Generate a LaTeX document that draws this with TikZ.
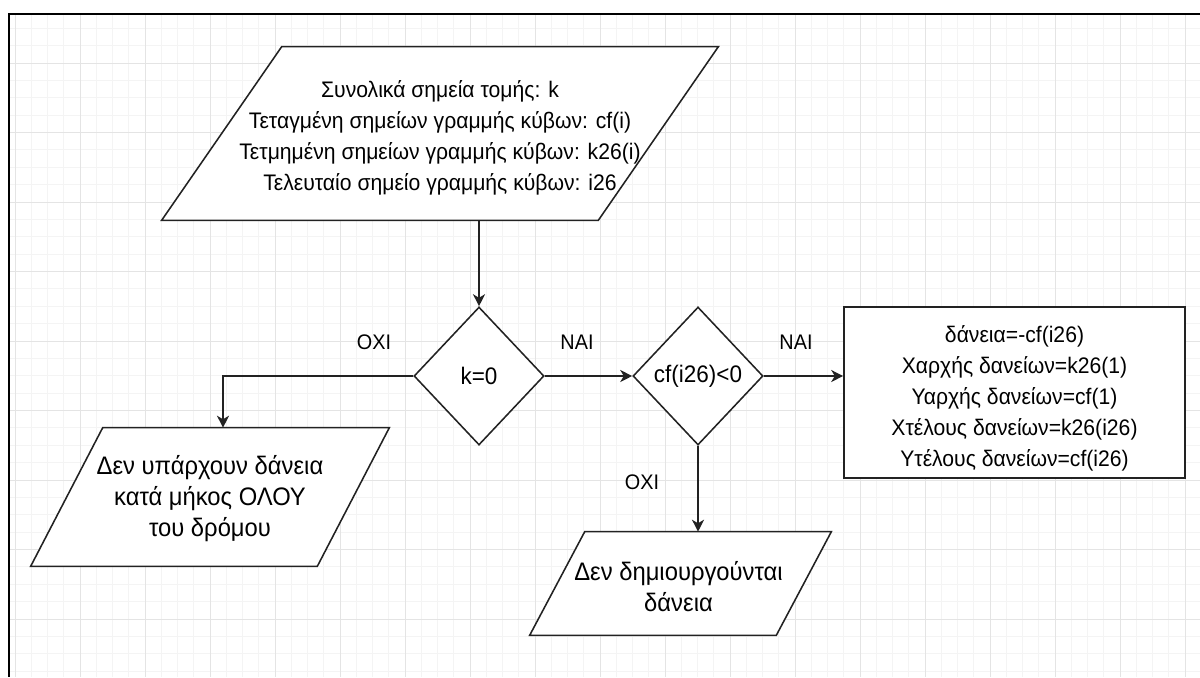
\documentclass[tikz,border=0pt]{standalone}
\usepackage{fontspec}
\setmainfont{Liberation Sans}[FakeStretch=0.94]
\usetikzlibrary{positioning, arrows.meta, shapes.geometric, calc}

\definecolor{gridmajor}{HTML}{E4E4E4}
\definecolor{gridminor}{HTML}{F4F4F4}
\definecolor{linecol}{HTML}{222222}

\tikzset{
  boxtext/.style={align=center, inner sep=0pt, font=\fontsize{16}{22}\selectfont},
  bigtext/.style={boxtext, font=\fontsize{18}{22}\selectfont},
  decision/.style={diamond, draw=linecol, line width=1.1pt, fill=white, aspect=0.94,
    inner sep=0pt, minimum width=3.25cm, minimum height=3.45cm,
    font=\fontsize{17}{22}\selectfont},
  procbox/.style={rectangle, draw=linecol, line width=1.1pt, fill=white},
  ioline/.style={draw=linecol, line width=1.1pt, fill=white},
  arrow/.style={-{Stealth[length=8.5pt, width=8.5pt, inset=2.5pt]}, draw=linecol, line width=1.1pt},
  lbl/.style={inner sep=0pt, font=\fontsize{15}{18}\selectfont}
}

\begin{document}
\begin{tikzpicture}[x=0.025cm, y=-0.025cm]
  \useasboundingbox (0,0) rectangle (1200,677);
  % Πλέγμα
  \begin{scope}
    \clip (9,14) rectangle (1200,677);
    \foreach \i in {-1,...,73}
      \draw[gridminor, line width=0.6pt] ({15+16.25*\i},0) -- ({15+16.25*\i},677);
    \foreach \j in {0,...,40}
      \draw[gridminor, line width=0.6pt] (0,{-6.5+17.375*\j}) -- (1200,{-6.5+17.375*\j});
    \foreach \i in {0,...,18}
      \draw[gridmajor, line width=0.6pt] ({15+65*\i},0) -- ({15+65*\i},677);
    \foreach \j in {0,...,10}
      \draw[gridmajor, line width=0.6pt] (0,{-6.5+69.5*\j}) -- (1200,{-6.5+69.5*\j});
  \end{scope}
  % Πλαίσιο
  \draw[black, line width=1.6pt] (1200,14) -- (9,14) -- (9,677);

  % Δεδομένα εισόδου
  \node[boxtext, minimum width=13.9cm, minimum height=4.325cm] (input) at (440,133.5) {};
  \draw[ioline] ([xshift=3cm]input.north west) -- (input.north east)
    -- ([xshift=-3cm]input.south east) -- (input.south west) -- cycle;
  \node[boxtext] (inputtxt) at ([yshift=-0.1cm]input.center) {Συνολικά σημεία τομής: k\\
    Τεταγμένη σημείων γραμμής κύβων: cf(i)\\
    Τετμημένη σημείων γραμμής κύβων: k26(i)\\
    Τελευταίο σημείο γραμμής κύβων: i26};

  % Αποφάσεις
  \node[decision] (dec1) at (479,376) {k=0};
  \node[decision] (dec2) at (698,376) {cf(i26)<0};

  % Υπολογισμός δανείων
  \node[procbox, minimum width=8.525cm, minimum height=4.275cm] (loans) at (1014.5,392.5) {};
  \node[boxtext] (loanstxt) at ([yshift=-0.14cm]loans.center)
    {δάνεια=-cf(i26)\\ Χαρχής δανείων=k26(1)\\ Υαρχής δανείων=cf(1)\\
     Χτέλους δανείων=k26(i26)\\ Υτέλους δανείων=cf(i26)};

  % Έξοδος: όχι σημεία τομής
  \node[boxtext, minimum width=8.95cm, minimum height=3.45cm] (out1) at (210,497) {};
  \draw[ioline] ([xshift=1.8cm]out1.north west) -- (out1.north east)
    -- ([xshift=-1.8cm]out1.south east) -- (out1.south west) -- cycle;
  \node[bigtext] (out1txt) at ([yshift=-0.03cm]out1.center) {Δεν υπάρχουν δάνεια\\ κατά μήκος ΟΛΟΥ\\ του δρόμου};

  % Έξοδος: όχι δάνεια
  \node[boxtext, minimum width=7.525cm, minimum height=2.575cm] (out2) at (680.5,583.5) {};
  \draw[ioline] ([xshift=1.375cm]out2.north west) -- (out2.north east)
    -- ([xshift=-1.375cm]out2.south east) -- (out2.south west) -- cycle;
  \node[bigtext] (out2txt) at ([xshift=-0.05cm, yshift=-0.08cm]out2.center) {Δεν δημιουργούνται\\ δάνεια};

  % Συνδέσεις
  \draw[arrow] (input.south -| dec1.north) -- (dec1.north);
  \draw[arrow] (dec1.east) -- (dec2.west);
  \draw[arrow] (dec2.east) -- (dec2.east -| loans.west);
  \draw[arrow] (dec1.west) -| ([xshift=0.325cm]out1.north);
  \draw[arrow] (dec2.south) -- (dec2.south |- out2.north);

  % Ετικέτες
  \node[lbl] (no1) at (374,342) {ΟΧΙ};
  \node[lbl] (yes1) at (577,342) {ΝΑΙ};
  \node[lbl] (yes2) at (796,342) {ΝΑΙ};
  \node[lbl] (no2) at (642,482) {ΟΧΙ};
\end{tikzpicture}
\end{document}
